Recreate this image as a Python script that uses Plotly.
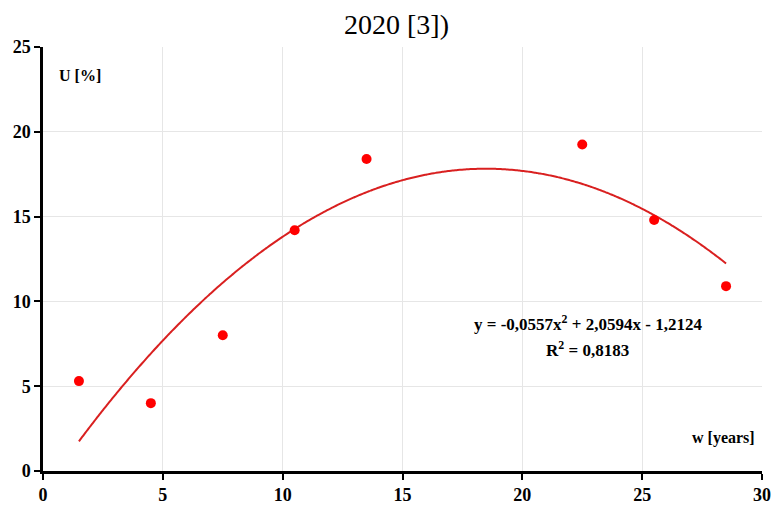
import numpy as np
import plotly.graph_objects as go

# Data
w_years = [1.5, 4.5, 7.5, 10.5, 13.5, 22.5, 25.5, 28.5]
u_percent = [5.3, 4.0, 8.0, 14.2, 18.4, 19.25, 14.8, 10.9]

# Trendline coefficients (as printed on the chart): y = a x^2 + b x + c
trend_coef = [-0.0557, 2.0594, -1.2124]
trend_range = [1.5, 28.5]

x_ticks = [0, 5, 10, 15, 20, 25, 30]
y_ticks = [0, 5, 10, 15, 20, 25]

xt = np.linspace(trend_range[0], trend_range[1], 300)
yt = np.polyval(trend_coef, xt)

serif = "Liberation Serif, Times New Roman, serif"

fig = go.Figure()
fig.add_trace(go.Scatter(x=xt, y=yt, mode="lines",
                         line=dict(color="#d92020", width=2, shape="spline", simplify=False),
                         hoverinfo="skip", showlegend=False))
fig.add_trace(go.Scatter(x=w_years, y=u_percent, mode="markers",
                         marker=dict(color="#ff0000", size=10), showlegend=False))

axis_common = dict(showline=True, linecolor="black", linewidth=2.5,
                   ticks="outside", ticklen=6, tickwidth=2, tickcolor="black",
                   showgrid=True, gridcolor="#e6e6e6", gridwidth=1,
                   zeroline=False, mirror=False, automargin=False,
                   tickfont=dict(family=serif, size=18, color="black", weight="bold"))

fig.update_xaxes(range=[0, 30], tickvals=x_ticks, **axis_common)
fig.update_yaxes(range=[0, 25], tickvals=y_ticks, **axis_common)

ann_font = dict(family=serif, size=16, color="black", weight="bold")
eq_font = dict(family=serif, size=17, color="black", weight="bold")
fig.update_layout(
    width=771, height=507,
    margin=dict(l=43, r=9, t=47, b=36),
    plot_bgcolor="white", paper_bgcolor="white",
    annotations=[
        dict(text="2020 [3])", xref="paper", yref="paper", x=0.492, y=1,
             yshift=23, showarrow=False, xanchor="center", yanchor="middle",
             font=dict(family=serif, size=28, color="black")),
        dict(text="U [%]", xref="x", yref="y", x=0.6, y=23.3, showarrow=False,
             xanchor="left", yanchor="middle", font=ann_font),
        dict(text="w [years]", xref="x", yref="y", x=29.8, y=1.95, showarrow=False,
             xanchor="right", yanchor="middle", font=ann_font),
        dict(text="y = -0,0557x<sup>2</sup> + 2,0594x - 1,2124",
             xref="x", yref="y", x=22.73, y=8.75, showarrow=False,
             xanchor="center", yanchor="middle", font=eq_font),
        dict(text="R<sup>2</sup> = 0,8183",
             xref="x", yref="y", x=22.73, y=7.2, showarrow=False,
             xanchor="center", yanchor="middle", font=eq_font),
    ],
)

fig.write_html("out.html")
